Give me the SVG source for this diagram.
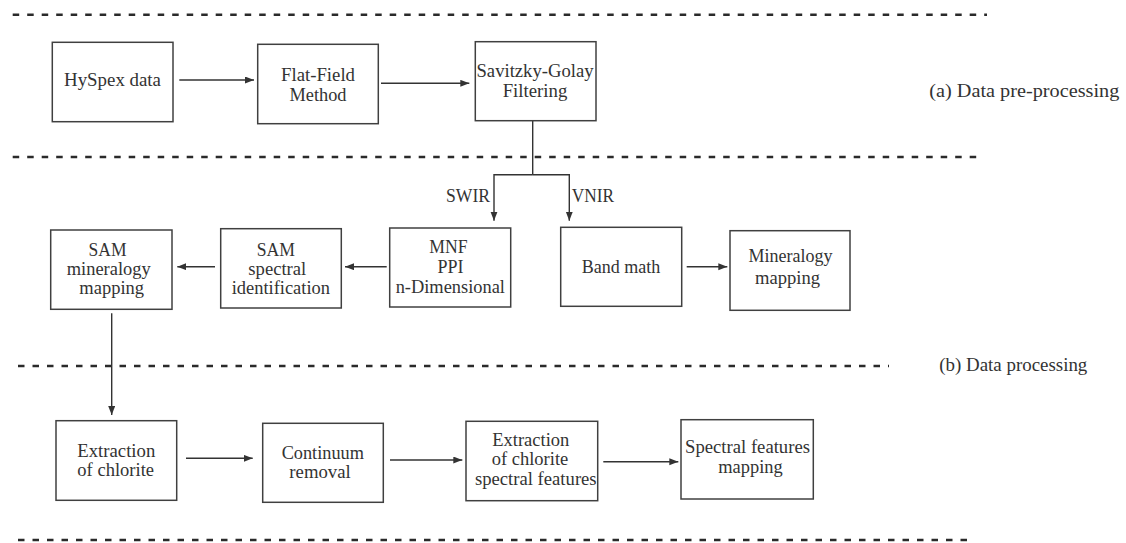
<svg xmlns="http://www.w3.org/2000/svg" width="1126" height="543" viewBox="0 0 1126 543">
<style>
.box{fill:#fff;stroke:#404040;stroke-width:1.5}
.t{font-family:"Liberation Serif","Times New Roman",serif;font-size:18px;fill:#333;text-anchor:middle}
.lab{font-family:"Liberation Serif","Times New Roman",serif;font-size:19px;fill:#333}
.sep{stroke:#2a2a2a;stroke-width:2.5;stroke-dasharray:6.5 8;fill:none}
.c{stroke:#333;stroke-width:1.4;fill:none}
.a{marker-end:url(#ah)}
</style>
<defs>
<marker id="ah" markerUnits="userSpaceOnUse" markerWidth="10" markerHeight="8" refX="9" refY="3.5" orient="auto">
<path d="M0,0 L9,3.5 L0,7 z" fill="#333"/>
</marker>
</defs>
<rect width="1126" height="543" fill="#fff"/>
<g id="separators">
<line class="sep" x1="12.7" y1="14.7" x2="987" y2="14.7"/>
<line class="sep" x1="12.7" y1="157" x2="978" y2="157"/>
<line class="sep" x1="18" y1="366" x2="889" y2="366"/>
<line class="sep" x1="18" y1="540" x2="968" y2="540"/>
</g>
<g id="labels">
<text class="lab" x="929.3" y="96.5" textLength="190" lengthAdjust="spacingAndGlyphs">(a) Data pre-processing</text>
<text class="lab" x="939.3" y="371" textLength="148" lengthAdjust="spacingAndGlyphs">(b) Data processing</text>
</g>
<g id="connectors">
<line class="c a" x1="179.3" y1="80" x2="254" y2="80"/>
<line class="c a" x1="381" y1="83.3" x2="469.3" y2="83.3"/>
<polyline class="c" points="532.7,121 532.7,174.7"/>
<polyline class="c a" points="532.7,174.7 494,174.7 494,220.7"/>
<polyline class="c a" points="532.7,174.7 569.3,174.7 569.3,220.7"/>
<text class="t" x="468" y="201.7" textLength="44" lengthAdjust="spacingAndGlyphs">SWIR</text>
<text class="t" x="592.8" y="201.7" textLength="42.3" lengthAdjust="spacingAndGlyphs">VNIR</text>
<line class="c a" x1="386.7" y1="266.7" x2="345" y2="266.7"/>
<line class="c a" x1="215" y1="266.7" x2="177.3" y2="266.7"/>
<line class="c a" x1="686.7" y1="266.7" x2="727.3" y2="266.7"/>
<line class="c a" x1="111.7" y1="313.3" x2="111.7" y2="415"/>
<line class="c a" x1="186" y1="458.3" x2="252.7" y2="458.3"/>
<line class="c a" x1="390" y1="460" x2="462.3" y2="460"/>
<line class="c a" x1="603.3" y1="461.7" x2="678.3" y2="461.7"/>
</g>
<g id="hyspex">
<rect class="box" x="52.3" y="42.3" width="120.7" height="79.4"/>
<text class="t" x="112.5" y="86" textLength="97" lengthAdjust="spacingAndGlyphs">HySpex  data</text>
</g>
<g id="flatfield">
<rect class="box" x="257.7" y="44.3" width="120.6" height="79.4"/>
<text class="t" x="318" y="81.3" textLength="74" lengthAdjust="spacingAndGlyphs">Flat-Field</text>
<text class="t" x="318" y="100.5" textLength="57" lengthAdjust="spacingAndGlyphs">Method</text>
</g>
<g id="savitzky">
<rect class="box" x="475.3" y="41.7" width="120.7" height="79"/>
<text class="t" x="535" y="77.3" textLength="117" lengthAdjust="spacingAndGlyphs">Savitzky-Golay</text>
<text class="t" x="535" y="96.7" textLength="64.7" lengthAdjust="spacingAndGlyphs">Filtering</text>
</g>
<g id="mnf">
<rect class="box" x="389.7" y="228" width="121" height="79"/>
<text class="t" x="448.5" y="253.3" textLength="38.3" lengthAdjust="spacingAndGlyphs">MNF</text>
<text class="t" x="450.5" y="273" textLength="26" lengthAdjust="spacingAndGlyphs">PPI</text>
<text class="t" x="450.3" y="292.7" textLength="109.3" lengthAdjust="spacingAndGlyphs">n-Dimensional</text>
</g>
<g id="sam-spectral">
<rect class="box" x="220.7" y="228.7" width="120.6" height="79.3"/>
<text class="t" x="275.8" y="256" textLength="38.3" lengthAdjust="spacingAndGlyphs">SAM</text>
<text class="t" x="277.3" y="275" textLength="58" lengthAdjust="spacingAndGlyphs">spectral</text>
<text class="t" x="280.8" y="294" textLength="98.3" lengthAdjust="spacingAndGlyphs">identification</text>
</g>
<g id="sam-mapping">
<rect class="box" x="50.7" y="230" width="121.3" height="79.3"/>
<text class="t" x="107.5" y="256" textLength="38" lengthAdjust="spacingAndGlyphs">SAM</text>
<text class="t" x="108.7" y="275" textLength="84" lengthAdjust="spacingAndGlyphs">mineralogy</text>
<text class="t" x="111.7" y="294" textLength="64.7" lengthAdjust="spacingAndGlyphs">mapping</text>
</g>
<g id="bandmath">
<rect class="box" x="560.7" y="227.3" width="121" height="79"/>
<text class="t" x="621" y="272.7" textLength="78.6" lengthAdjust="spacingAndGlyphs">Band math</text>
</g>
<g id="mineralogy-mapping">
<rect class="box" x="730" y="230.7" width="120" height="79.6"/>
<text class="t" x="790.5" y="262" textLength="84" lengthAdjust="spacingAndGlyphs">Mineralogy</text>
<text class="t" x="787.5" y="284" textLength="65" lengthAdjust="spacingAndGlyphs">mapping</text>
</g>
<g id="extraction-chlorite">
<rect class="box" x="56" y="420.7" width="120.7" height="79.6"/>
<text class="t" x="116.3" y="457" textLength="78" lengthAdjust="spacingAndGlyphs">Extraction</text>
<text class="t" x="115.7" y="476" textLength="76.7" lengthAdjust="spacingAndGlyphs">of chlorite</text>
</g>
<g id="continuum">
<rect class="box" x="262.7" y="423.3" width="120.6" height="79"/>
<text class="t" x="322.8" y="459.3" textLength="82.3" lengthAdjust="spacingAndGlyphs">Continuum</text>
<text class="t" x="320" y="478.3" textLength="61.3" lengthAdjust="spacingAndGlyphs">removal</text>
</g>
<g id="extraction-features">
<rect class="box" x="466" y="421.3" width="131.7" height="79.4"/>
<text class="t" x="530.8" y="446" textLength="77" lengthAdjust="spacingAndGlyphs">Extraction</text>
<text class="t" x="530" y="465.3" textLength="76.6" lengthAdjust="spacingAndGlyphs">of chlorite</text>
<text class="t" x="535.8" y="484.5" textLength="121.7" lengthAdjust="spacingAndGlyphs">spectral features</text>
</g>
<g id="features-mapping">
<rect class="box" x="681" y="419.7" width="132.3" height="79.3"/>
<text class="t" x="747.5" y="453" textLength="125" lengthAdjust="spacingAndGlyphs">Spectral features</text>
<text class="t" x="750.5" y="472.5" textLength="64.4" lengthAdjust="spacingAndGlyphs">mapping</text>
</g>
</svg>
